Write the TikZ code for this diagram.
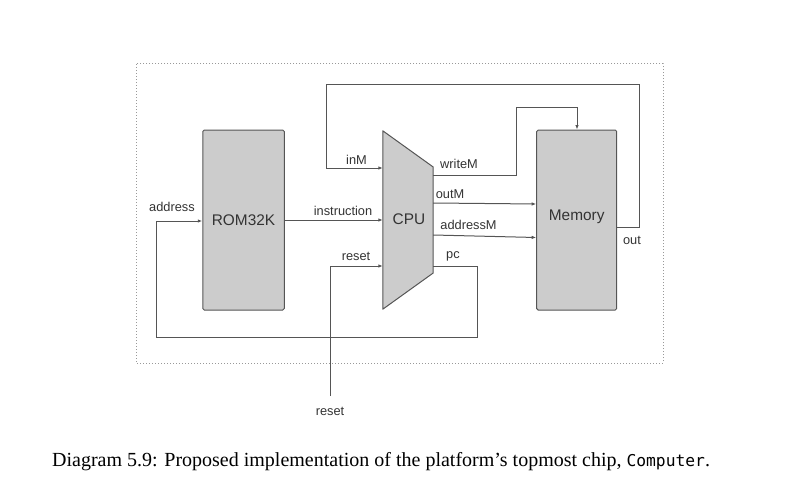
\documentclass[tikz,border=0pt]{standalone}
\usepackage{fontspec}
\setmainfont{Liberation Serif}
\newfontfamily\labelfont{Liberation Sans}
\newfontfamily\codefont{DejaVu Sans Mono}
\usetikzlibrary{arrows.meta,calc}
\definecolor{wirec}{HTML}{555555}
\definecolor{boxline}{HTML}{555555}
\definecolor{boxfill}{HTML}{CCCCCC}
\definecolor{txt}{HTML}{333333}
\definecolor{framec}{HTML}{999999}
\begin{document}
\begin{tikzpicture}[x=1pt,y=-1pt,
  wire/.style={draw=wirec, line width=1pt},
  arr/.style={-{Latex[length=4.5pt,width=3.5pt]}},
  block/.style={draw=boxline, fill=boxfill, line width=1pt, rounded corners=1.5pt, inner sep=0pt},
  lbl/.style={font=\labelfont\fontsize{12.8}{12.8}\selectfont, text=txt, inner sep=0pt},
  big/.style={font=\labelfont\fontsize{15.4}{15.4}\selectfont, text=txt, inner sep=0pt}]
\useasboundingbox (0,0) rectangle (792,487);
% frame
\draw[framec, dotted, line width=1pt] (136,64) rectangle (663,363);
% blocks
\node[block, minimum width=81.5pt, minimum height=180pt] (rom) at (243.5,220) {};
\node[block, minimum width=80pt, minimum height=180pt] (mem) at (576.7,220) {};
\node[inner sep=0pt, minimum width=50pt, minimum height=178pt] (cpu) at (408,220) {};
\draw[draw=boxline, fill=boxfill, line width=1pt, line join=round]
  (cpu.north west) -- (cpu.east |- 0,167) -- (cpu.east |- 0,273) -- (cpu.south west) -- cycle;
\node[big] (romlbl) at (rom.center) {ROM32K};
\node[big] (memlbl) at (576.7,217) {Memory};
\node[big] (cpulbl) at (409,219.5) {CPU};
% external reset
\coordinate (rstin) at (330,396);
% wires
\draw[wire,arr] (rom.east |- 0,220) -- (cpu.west |- 0,220);
\draw[wire,arr] (cpu.east |- 0,266) -- (477,266) -- (477,337) -- (156,337) -- (156,221) -- (rom.west |- 0,221);
\draw[wire,arr] (rstin) -- (330,266) -- (cpu.west |- 0,266);
\draw[wire,arr] (mem.east |- 0,227) -- (639.5,227) -- (639.5,84) -- (326,84) -- (326,168) -- (cpu.west |- 0,168);
\draw[wire,arr] (cpu.east |- 0,175.5) -- (516,175.5) -- (516,107.5) -- (577,107.5) -- (mem.north -| 577,0);
\draw[wire,arr] (cpu.east |- 0,203) -- (mem.west |- 0,204);
\draw[wire,arr] (cpu.east |- 0,235) -- (mem.west |- 0,237.5);
% labels
\node[lbl] (l1) at (356.5,159.5) {inM};
\node[lbl] (l2) at (172,207) {address};
\node[lbl] (l3) at (343,211) {instruction};
\node[lbl] (l4) at (459,164) {writeM};
\node[lbl] (l5) at (450,194.5) {outM};
\node[lbl] (l6) at (468.5,225) {addressM};
\node[lbl] (l7) at (632,240) {out};
\node[lbl] (l8) at (453,256) {pc};
\node[lbl] (l9) at (356,256) {reset};
\node[lbl] (l10) at (330,411) {reset};
% caption
\node[anchor=base west, inner sep=0pt, font=\fontsize{20}{20}\selectfont, text=black] (cap) at (52,466)
  {Diagram 5.9: Proposed implementation of the platform’s topmost chip, {\codefont\fontsize{16.3}{16.3}\selectfont Computer}.};
\end{tikzpicture}
\end{document}
